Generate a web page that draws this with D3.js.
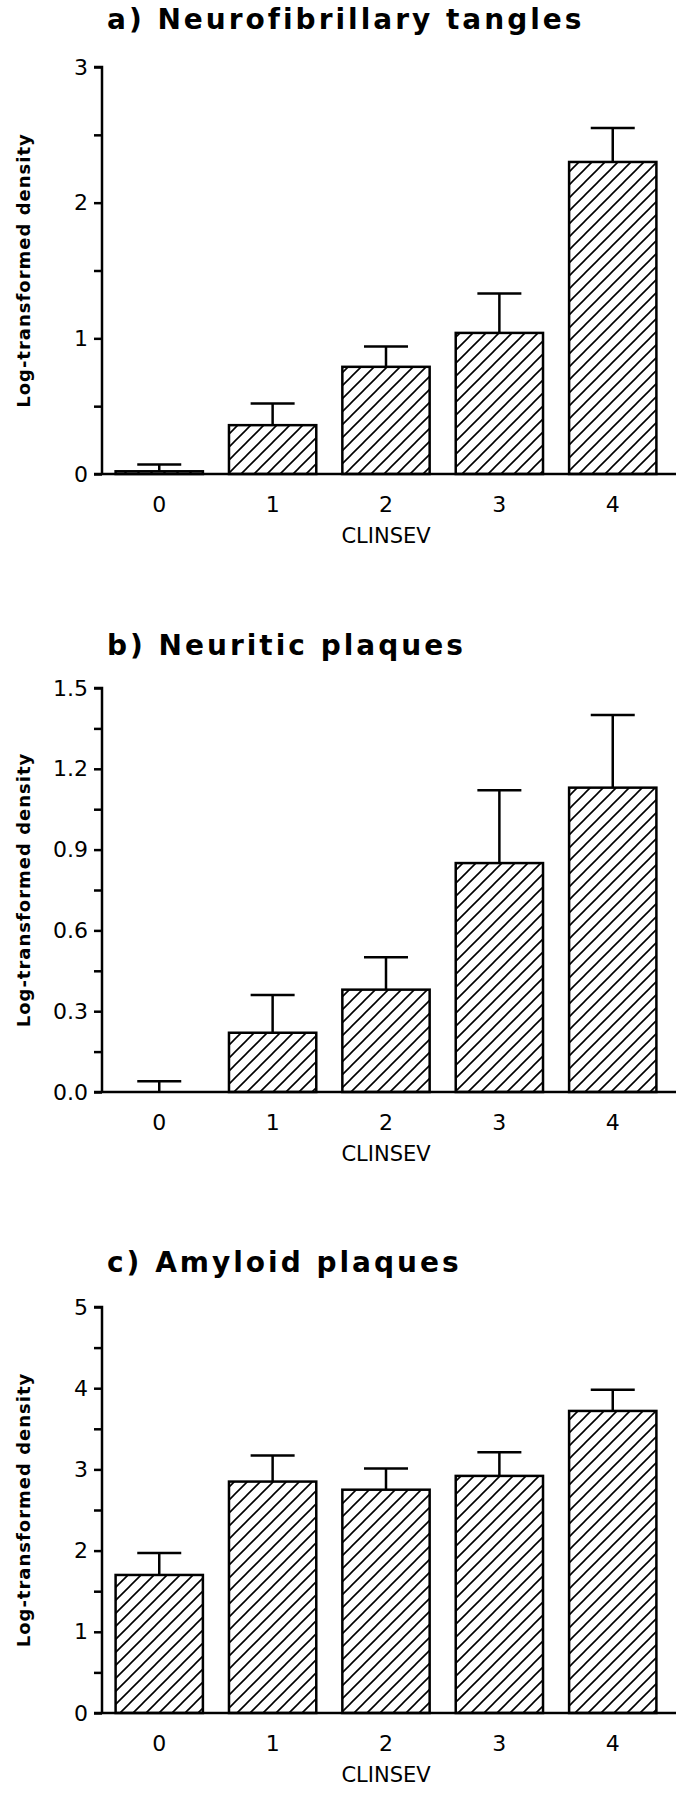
<!DOCTYPE html>
<html><head><meta charset="utf-8">
<script src="https://cdn.jsdelivr.net/npm/d3@7"></script>
<style>body{margin:0;background:#fff}</style>
</head><body>
<script>
const categories = ["0","1","2","3","4"];
const titles = ["a) Neurofibrillary tangles","b) Neuritic plaques","c) Amyloid plaques"];
const meansA = [0.02,0.36,0.79,1.04,2.30];
const upperA = [0.07,0.52,0.94,1.33,2.55];
const meansB = [0.0,0.22,0.38,0.85,1.13];
const upperB = [0.04,0.36,0.50,1.12,1.40];
const meansC = [1.70,2.85,2.75,2.92,3.72];
const upperC = [1.97,3.17,3.01,3.21,3.98];
const ticksA = [0,1,2,3], minorA = [0.5,1.5,2.5];
const ticksB = [0,0.3,0.6,0.9,1.2,1.5], minorB = [0.15,0.45,0.75,1.05,1.35];
const ticksC = [0,1,2,3,4,5], minorC = [0.5,1.5,2.5,3.5,4.5];

const panels = [
 {title:titles[0], m:meansA, u:upperA, ticks:ticksA, minor:minorA, max:3, fmt:d3.format("d"), titleY:29, top:67, zero:474},
 {title:titles[1], m:meansB, u:upperB, ticks:ticksB, minor:minorB, max:1.5, fmt:d3.format(".1f"), titleY:655, top:688, zero:1092},
 {title:titles[2], m:meansC, u:upperC, ticks:ticksC, minor:minorC, max:5, fmt:d3.format("d"), titleY:1272, top:1307, zero:1713}
];

const svg = d3.select("body").append("svg").attr("width",677).attr("height",1800);
const defs = svg.append("defs");
const pat = defs.append("pattern").attr("id","hatch").attr("patternUnits","userSpaceOnUse")
  .attr("width",13).attr("height",13);
pat.append("rect").attr("width",13).attr("height",13).attr("fill","#fff");
pat.append("path").attr("d","M-3,16 L16,-3 M-3,3 L3,-3 M10,16 L16,10").attr("stroke","#000").attr("stroke-width",1.6);

const x = d3.scaleBand().domain(categories).range([102,670]).paddingInner(0.23).paddingOuter(0.12);
const font = "'DejaVu Sans', sans-serif";

panels.forEach(p=>{
  const y = d3.scaleLinear().domain([0,p.max]).range([p.zero,p.top]);
  const g = svg.append("g");
  g.append("text").attr("x",107).attr("y",p.titleY).text(p.title)
    .attr("font-family",font).attr("font-size",28).attr("font-weight",600).attr("letter-spacing",3);
  g.selectAll("rect.bar").data(p.m).join("rect").attr("class","bar")
    .attr("x",(d,i)=>x(categories[i])).attr("width",x.bandwidth())
    .attr("y",d=>y(d)).attr("height",d=>y(0)-y(d))
    .attr("fill","url(#hatch)").attr("stroke","#000").attr("stroke-width",2.5);
  p.u.forEach((u,i)=>{
    const cx = x(categories[i])+x.bandwidth()/2;
    g.append("line").attr("x1",cx).attr("x2",cx).attr("y1",y(p.m[i])).attr("y2",y(u)).attr("stroke","#000").attr("stroke-width",2.5);
    g.append("line").attr("x1",cx-22).attr("x2",cx+22).attr("y1",y(u)).attr("y2",y(u)).attr("stroke","#000").attr("stroke-width",2.5);
  });
  const ya = g.append("g").attr("transform","translate(102,0)")
    .call(d3.axisLeft(y).tickValues(p.ticks).tickFormat(p.fmt).tickSize(8).tickPadding(6));
  ya.select(".domain").attr("stroke-width",2.5).attr("d",`M-8,${p.top}H0V${p.zero}`);
  ya.selectAll(".tick line").attr("stroke-width",2.5);
  ya.selectAll("text").attr("font-family",font).attr("font-size",22);
  g.append("g").attr("transform","translate(102,0)")
    .call(d3.axisLeft(y).tickValues(p.minor).tickFormat("").tickSize(8))
    .call(s=>{s.select(".domain").remove(); s.selectAll("line").attr("stroke-width",2.5);});
  const xa = g.append("g").attr("transform",`translate(0,${p.zero})`)
    .call(d3.axisBottom(x).tickSize(0).tickPadding(22));
  xa.select(".domain").attr("stroke-width",2.5).attr("d",`M94,0H676`);
  xa.selectAll("text").attr("font-family",font).attr("font-size",22);
  g.append("text").attr("x",386).attr("y",p.zero+69).attr("text-anchor","middle").text("CLINSEV")
    .attr("font-family",font).attr("font-size",21);
  g.append("text").attr("transform",`translate(30,${(p.top+p.zero)/2}) rotate(-90)`).attr("text-anchor","middle")
    .text("Log-transformed density").attr("font-family",font).attr("font-size",18).attr("font-weight","bold").attr("letter-spacing",1);
});
</script>
</body></html>
